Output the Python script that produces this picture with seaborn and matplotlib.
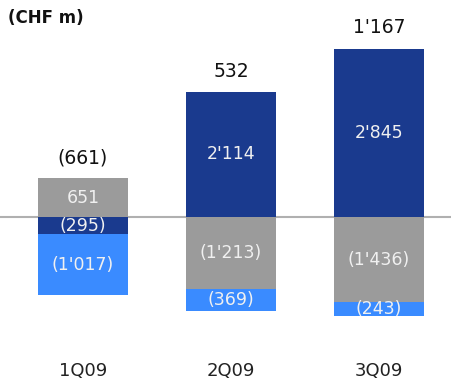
import numpy as np
import pandas as pd
import matplotlib
matplotlib.use("Agg")
import matplotlib.pyplot as plt
import seaborn as sns

# Quarterly components (CHF m)
quarters = ["1Q09", "2Q09", "3Q09"]
navy_vals = [-295, 2114, 2845]
gray_vals = [651, -1213, -1436]
blue_vals = [-1017, -369, -243]
totals = [-661, 532, 1167]

series_names = ["navy", "gray", "blue"]
series_vals = [navy_vals, gray_vals, blue_vals]
colors = {"navy": "#1a3a8e", "gray": "#9b9b9b", "blue": "#3a8bff"}


def fmt(v):
    s = f"{abs(v):,}".replace(",", "'")
    return f"({s})" if v < 0 else s


sns.set_theme(style="white")
plt.rcParams["font.family"] = ["DejaVu Sans"]

fig = plt.figure(figsize=(4.52, 3.82), dpi=100)
ax = fig.add_axes([0, 37 / 382, 1, 345 / 382])

pos_base = np.zeros(len(quarters))
neg_base = np.zeros(len(quarters))
for name, vals in zip(series_names, series_vals):
    vals = np.array(vals, dtype=float)
    bottoms = np.where(vals >= 0, pos_base, neg_base)
    df = pd.DataFrame({"quarter": quarters, "value": vals})
    sns.barplot(data=df, x="quarter", y="value", order=quarters,
                color=colors[name], saturation=1, width=0.608,
                bottom=bottoms, linewidth=0, ax=ax, errorbar=None)
    for i, v in enumerate(vals):
        ax.text(i, bottoms[i] + v / 2, fmt(int(v)), ha="center", va="center",
                color="#f0f0f0", fontsize=12.5)
    pos_base = pos_base + np.where(vals >= 0, vals, 0)
    neg_base = neg_base + np.where(vals < 0, vals, 0)

for i, t in enumerate(totals):
    ax.annotate(fmt(t), (i, pos_base[i]), xytext=(0, 8),
                textcoords="offset points", ha="center", va="bottom",
                fontsize=13.5, color="#111111")

ax.axhline(0, color="#b0b0b0", linewidth=1.5, zorder=0.5)

ax.set_xlim(-83 / 148, (452 - 83) / 148)
ax.set_ylim(-(345 - 217) / 0.0592, 217 / 0.0592)
ax.set_xlabel("")
ax.set_ylabel("")
ax.set_yticks([])
ax.tick_params(axis="x", length=0, pad=12, labelsize=13, labelcolor="#222222")
for sp in ax.spines.values():
    sp.set_visible(False)

fig.text(8 / 452, 1 - 18 / 382, "(CHF m)", fontsize=12, fontweight="bold",
         ha="left", va="center", color="#111111")

fig.savefig("out.png", dpi=100)
